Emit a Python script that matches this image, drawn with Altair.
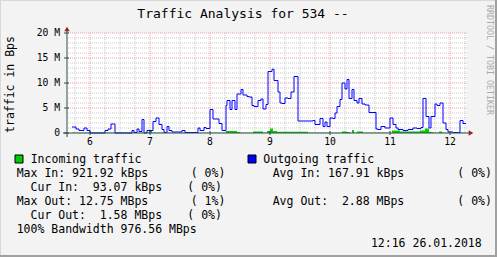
import altair as alt
import pandas as pd

FONT = "DejaVu Sans Mono"
NB = "\u00a0"
CHAR_W = 6.92

# ---- data (minute of day, value in M) ----
out_min = [342, 346, 349, 354, 357, 360, 375, 378, 381, 385, 402, 404, 407, 409, 412, 414, 417,
           423, 426, 429, 432, 434, 437, 439, 442, 452, 455, 468, 470, 474, 476, 480, 483, 489,
           492, 496, 497, 500, 502, 505, 507, 511, 513, 517, 519, 522, 524, 528, 531, 533, 536,
           538, 542, 544, 548, 550, 552, 555, 558, 561, 564, 568, 583, 585, 590, 593, 595, 597,
           600, 603, 605, 607, 610, 612, 615, 617, 619, 622, 624, 627, 629, 632, 635, 639, 646,
           648, 651, 655, 660, 663, 666, 668, 673, 678, 683, 687, 691, 693, 696, 699, 701, 705,
           707, 710, 713, 716, 718, 723, 730, 733, 736]
out_val = [1.2, 0.8, 0.5, 1.0, 0.5, 0.0, 0.5, 0.8, 1.8, 0.0, 0.5, 0.1, 0.8, 0.3, 2.7, 0.0, 0.5,
           2.3, 3.0, 1.7, 0.7, 0.1, 1.3, 0.5, 0.2, 0.5, 0.1, 1.0, 0.5, 1.1, 0.9, 4.7, 2.8, 1.9,
           0.5, 5.5, 6.5, 4.7, 6.5, 4.7, 7.8, 8.7, 7.6, 7.3, 7.2, 5.5, 5.3, 6.5, 6.8, 4.8, 5.7,
           12.3, 12.75, 10.5, 8.2, 6.0, 5.9, 7.0, 6.9, 8.2, 11.3, 2.4, 2.5, 1.7, 2.9, 1.3, 2.2, 1.3,
           3.0, 2.9, 4.0, 5.3, 6.7, 10.0, 8.8, 10.7, 6.9, 8.7, 6.5, 6.0, 6.9, 5.8, 5.6, 4.1, 0.8,
           0.7, 1.3, 1.0, 3.0, 1.7, 1.0, 0.7, 0.5, 0.7, 1.0, 0.9, 1.1, 6.9, 3.3, 1.0, 3.3, 5.8,
           5.5, 6.0, 2.0, 0.7, 0.2, 0.1, 2.5, 1.9, 1.9]

in_min = [342, 419, 422, 496, 507, 510, 523, 533, 537, 540, 543, 547, 578, 612, 617, 620, 622,
          624, 627, 633, 662, 670, 690, 695, 699, 703, 709, 712, 736]
in_val = [0.05, 0.6, 0.05, 0.4, 0.2, 0.05, 0.3, 0.05, 0.4, 0.9, 0.4, 0.25, 0.05, 0.3, 0.2, 0.05,
          0.6, 0.05, 0.3, 0.05, 0.5, 0.3, 0.5, 0.92, 0.2, 0.05, 0.3, 0.05, 0.05]

hour_ticks = [360, 420, 480, 540, 600, 660, 720]
hour_labels = ["6", "7", "8", "9", "10", "11", "12"]
minor_x = [m for m in range(345, 737, 15) if m % 60 != 0]
major_y = [5, 10, 15, 20]
minor_y = [v for v in range(1, 20) if v % 5 != 0]
y_ticks = [0, 5, 10, 15, 20]
y_labels = ["0", "5 M", "10 M", "15 M", "20 M"]

legend_rows = [
    ("Max In: 921.92 kBps", "( 0%)", "Avg In: 167.91 kBps", "( 0%)"),
    ("  Cur In:  93.07 kBps", "( 0%)", None, None),
    ("Max Out: 12.75 MBps", "( 1%)", "Avg Out:  2.88 MBps", "( 0%)"),
    ("  Cur Out:  1.58 MBps", "( 0%)", None, None),
]
bandwidth_text = "100% Bandwidth 976.56 MBps"
date_text = "12:16 26.01.2018"
title_text = "Traffic Analysis for 534 --"

out_df = pd.DataFrame({"minute": out_min, "value": out_val})
in_df = pd.DataFrame({"minute": in_min, "value": in_val})
xlab_df = pd.DataFrame({"v": hour_ticks, "t": hour_labels})
ylab_df = pd.DataFrame({"v": y_ticks, "t": y_labels})

OX, OY = 67, 33  # plot origin in page pixels

xscale = alt.Scale(domain=[337, 737], nice=False, zero=False)
yscale = alt.Scale(domain=[0, 20], nice=False, zero=False)

one = alt.Data(values=[{}])


def txt(s, x, y, size=11.5, align="left", baseline="alphabetic", angle=0, color="black"):
    lead = len(s) - len(s.lstrip(" "))
    s = s.lstrip(" ")
    x = x + lead * CHAR_W
    return alt.Chart(one).mark_text(
        text=s.replace(" ", NB), align=align, baseline=baseline, font=FONT, fontSize=size,
        color=color, angle=angle
    ).encode(x=alt.value(x - OX), y=alt.value(y - OY))


def box(x1, x2, y1, y2, fill, stroke=None):
    kw = dict(fill=fill)
    if stroke:
        kw.update(stroke=stroke, strokeWidth=1)
    return alt.Chart(one).mark_rect(**kw).encode(
        x=alt.value(x1 - OX), x2=alt.value(x2 - OX),
        y=alt.value(y1 - OY), y2=alt.value(y2 - OY))


X = lambda f: alt.X(f, scale=xscale, axis=None)
Y = lambda f: alt.Y(f, scale=yscale, axis=None)

grid_minor_x = alt.Chart(alt.Data(values=[{"v": m} for m in minor_x])).mark_rule(
    color="#c8c8c8", strokeWidth=1, strokeDash=[1, 1]).encode(x=X("v:Q"))
grid_minor_y = alt.Chart(alt.Data(values=[{"v": v} for v in minor_y])).mark_rule(
    color="#c8c8c8", strokeWidth=1, strokeDash=[1, 1]).encode(y=Y("v:Q"))
grid_major_x = alt.Chart(xlab_df).mark_rule(
    color="#ee9a9a", strokeWidth=1, strokeDash=[1, 1]).encode(x=X("v:Q"))
grid_major_y = alt.Chart(alt.Data(values=[{"v": v} for v in major_y])).mark_rule(
    color="#ee9a9a", strokeWidth=1, strokeDash=[1, 1]).encode(y=Y("v:Q"))

area_in = alt.Chart(in_df).mark_area(
    color="#00cc00", interpolate="step-after", opacity=1).encode(
    x=X("minute:Q"), y=Y("value:Q"))

line_out = alt.Chart(out_df).mark_line(
    color="#0000ff", strokeWidth=1, interpolate="step-after").encode(
    x=X("minute:Q"), y=Y("value:Q"))

# axes drawn by hand (RRDtool style)
x_ticks_m = alt.Chart(xlab_df).mark_rule(color="#2c4d43", strokeWidth=1).encode(
    x=X("v:Q"), y=alt.value(98), y2=alt.value(102))
y_ticks_m = alt.Chart(ylab_df).mark_rule(color="#2c4d43", strokeWidth=1).encode(
    y=Y("v:Q"), x=alt.value(-3), x2=alt.value(2))
x_labels = alt.Chart(xlab_df).mark_text(
    font=FONT, fontSize=9.7, color="black", align="center", baseline="top").encode(
    x=X("v:Q"), y=alt.value(104), text="t:N")
y_labels_m = alt.Chart(ylab_df).mark_text(
    font=FONT, fontSize=9.7, color="black", align="right", baseline="middle").encode(
    y=Y("v:Q"), x=alt.value(-7), text="t:N")

axis_x_line = alt.Chart(one).mark_rule(color="#2c4d43", strokeWidth=1).encode(
    x=alt.value(-4), x2=alt.value(404), y=alt.value(100))
axis_y_line = alt.Chart(one).mark_rule(color="#2c4d43", strokeWidth=1).encode(
    x=alt.value(0), y=alt.value(-5), y2=alt.value(104))
arrow_up = alt.Chart(one).mark_point(
    shape="triangle-up", filled=True, color="#9b2020", size=28, opacity=1).encode(
    x=alt.value(0), y=alt.value(-4))
arrow_right = alt.Chart(one).mark_point(
    shape="triangle-right", filled=True, color="#9b2020", size=28, opacity=1).encode(
    x=alt.value(404), y=alt.value(100))

layers = [grid_minor_x, grid_minor_y, grid_major_x, grid_major_y, area_in, line_out,
          axis_x_line, axis_y_line, x_ticks_m, y_ticks_m, x_labels, y_labels_m,
          arrow_up, arrow_right]

# titles
layers.append(txt(title_text, 243, 18, size=13, align="center"))
layers.append(txt("traffic in Bps", 10.5, 84.5, size=11.5, align="center",
                  baseline="middle", angle=270))
layers.append(txt("RRDTOOL / TOBI OETIKER", 488.5, 60, size=8.3, align="center",
                  baseline="middle", angle=90, color="#aaaaaa"))

# legend
layers.append(box(15, 23, 155, 163, "#00cc00", "#000000"))
layers.append(txt("Incoming traffic", 30.7, 163))
layers.append(box(248, 256, 155, 163, "#0000ff", "#000000"))
layers.append(txt("Outgoing traffic", 263.3, 163))

row_y = [177, 191, 205, 219]
for (a, b, c, d), yy in zip(legend_rows, row_y):
    layers.append(txt(a, 16.7, yy))
    layers.append(txt(b, 190.7 if c else 187.3, yy))
    if c:
        layers.append(txt(c, 272.7, yy))
        layers.append(txt(d, 457.3, yy))
layers.append(txt(bandwidth_text, 16.7, 233))
layers.append(txt(date_text, 481.7, 247, align="right"))

# frame shading
layers.append(box(0, 497, 0, 1, "#d8d8d8"))
layers.append(box(0, 1, 0, 257, "#d8d8d8"))
layers.append(box(0, 497, 255, 257, "#a0a0a0"))
layers.append(box(495, 497, 0, 257, "#a0a0a0"))

chart = alt.layer(*layers).properties(
    width=400, height=100,
    padding={"left": OX, "top": OY, "right": 497 - OX - 400, "bottom": 257 - OY - 100},
    autosize="none",
    background="#f3f3f3",
).configure_view(stroke=None, fill="white")

chart.save("out.html", embed_options={"renderer": "svg", "actions": False})
